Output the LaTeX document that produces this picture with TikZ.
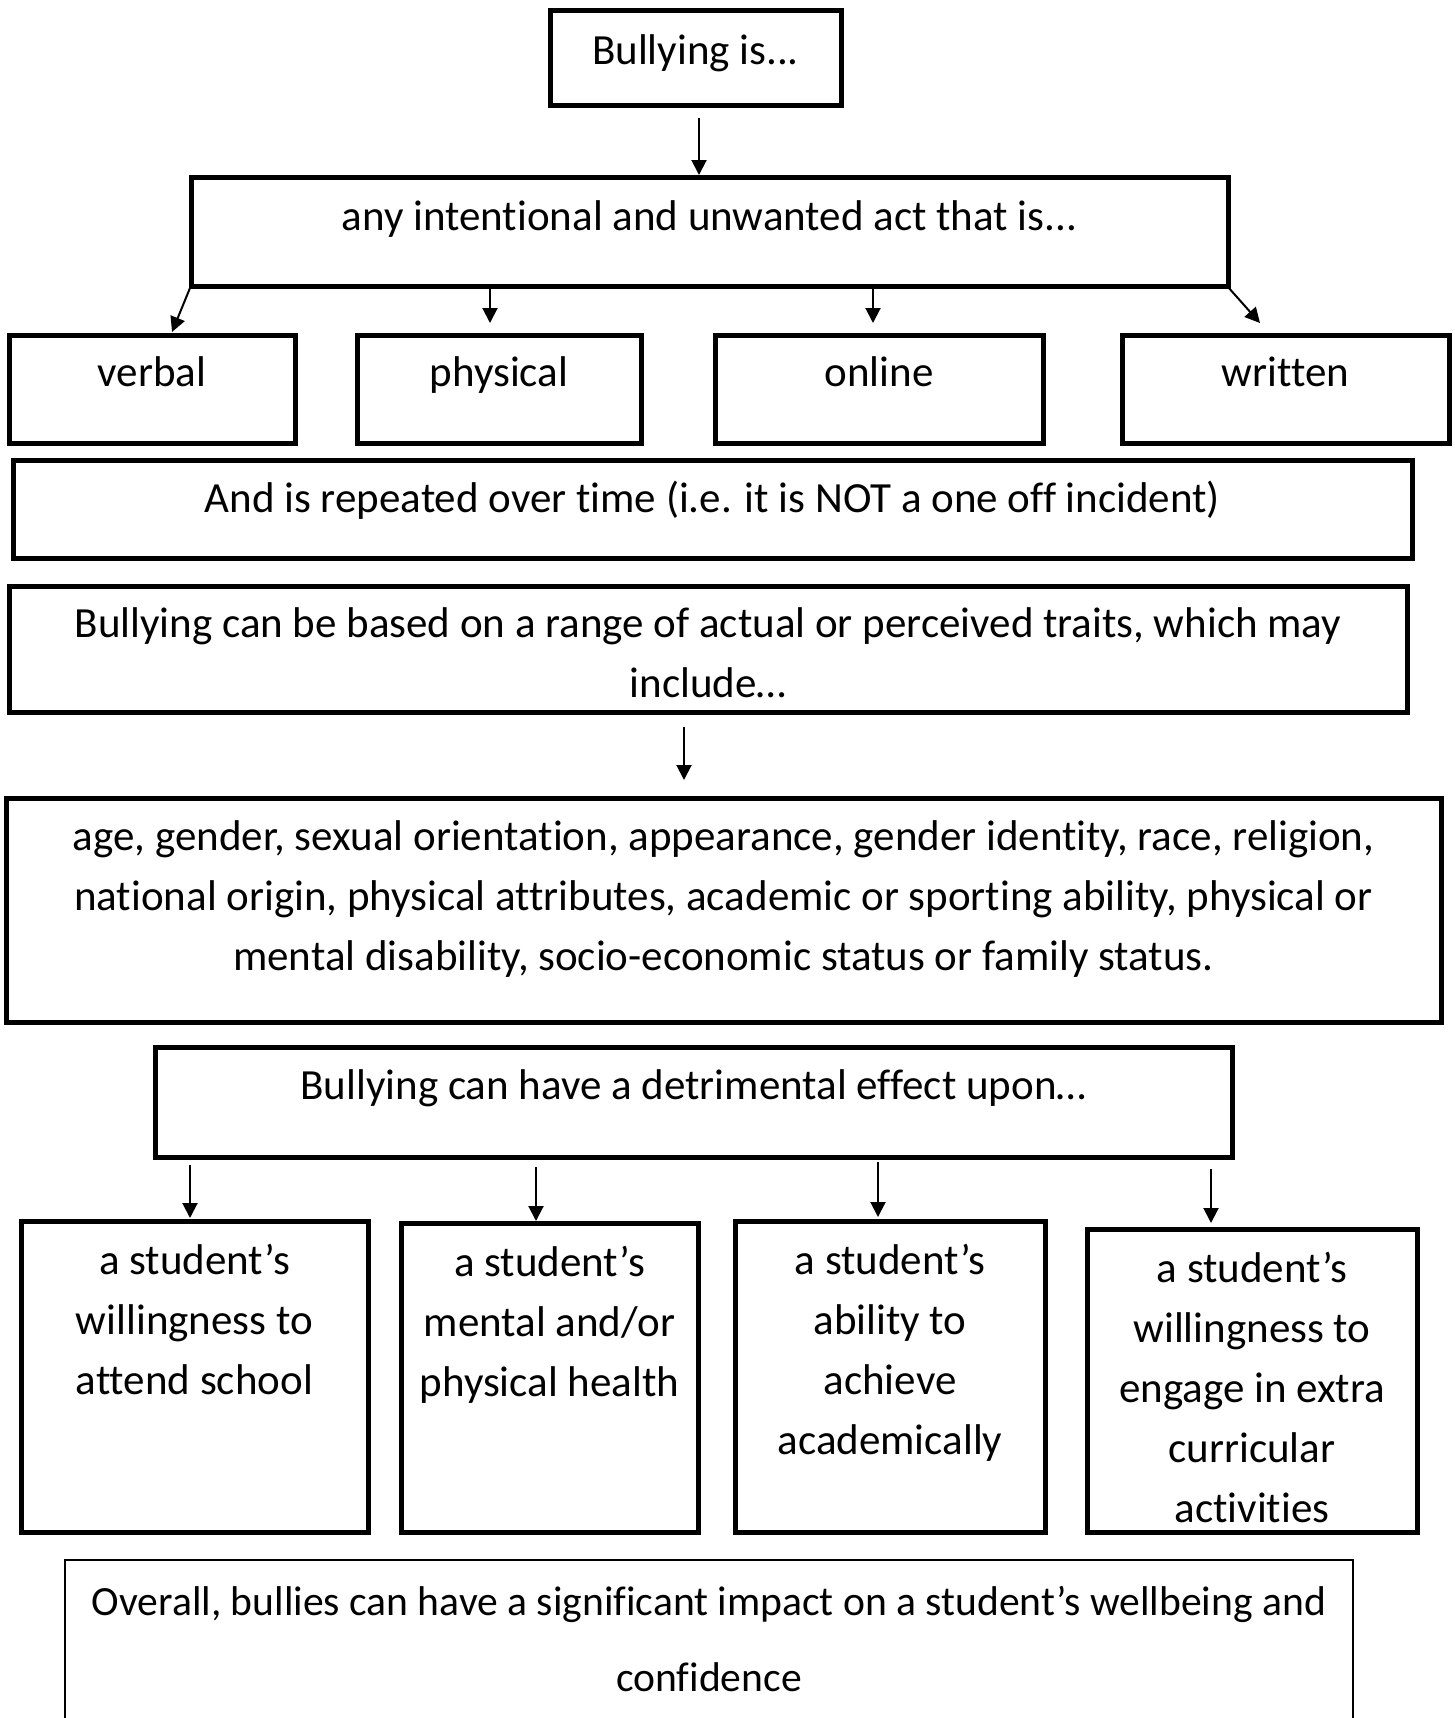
\documentclass[tikz,border=0pt]{standalone}
\usepackage{fontspec}
\setmainfont[Ligatures=NoCommon]{Carlito}
\usetikzlibrary{arrows.meta,calc}
\tikzset{
  box/.style={draw, line width=2.5pt, inner sep=0pt, outer sep=0pt},
  thinbox/.style={draw, line width=0.75pt, inner sep=0pt, outer sep=0pt},
  txt/.style={anchor=base, inner sep=0pt, align=center, font=\fontsize{21.5pt}{30pt}\selectfont},
  txtwide/.style={anchor=base, inner sep=0pt, align=center, font=\fontsize{20.8pt}{38pt}\selectfont},
  arr/.style={line width=1pt, -{Triangle[length=7.5pt,width=7.5pt]}}
}
\begin{document}
\begin{tikzpicture}[x=0.5pt,y=-0.5pt]
\useasboundingbox[fill=white] (0,0) rectangle (1455,1718);
% boxes
\node[box, minimum width=291*0.5pt, minimum height=95*0.5pt] (b0) at (695.5,58.5) {};
\node[box, minimum width=1037*0.5pt, minimum height=109*0.5pt] (b1) at (709.5,231.5) {};
\node[box, minimum width=286*0.5pt, minimum height=108*0.5pt] (verbal) at (152,389) {};
\node[box, minimum width=284*0.5pt, minimum height=108*0.5pt] (physical) at (499,389) {};
\node[box, minimum width=328*0.5pt, minimum height=108*0.5pt] (online) at (879,389) {};
\node[box, minimum width=327*0.5pt, minimum height=108*0.5pt] (written) at (1285.5,389) {};
\node[box, minimum width=1399*0.5pt, minimum height=98*0.5pt] (repeat) at (712.5,509) {};
\node[box, minimum width=1398*0.5pt, minimum height=126*0.5pt] (based) at (708,649) {};
\node[box, minimum width=1435*0.5pt, minimum height=224*0.5pt] (traits) at (723.5,910) {};
\node[box, minimum width=1077*0.5pt, minimum height=110*0.5pt] (detr) at (693.5,1102) {};
\node[box, minimum width=347*0.5pt, minimum height=311*0.5pt] (s1) at (194.5,1376.5) {};
\node[box, minimum width=297*0.5pt, minimum height=309*0.5pt] (s2) at (549.5,1377.5) {};
\node[box, minimum width=310*0.5pt, minimum height=311*0.5pt] (s3) at (890,1376.5) {};
\node[box, minimum width=330*0.5pt, minimum height=303*0.5pt] (s4) at (1252,1380.5) {};
\node[thinbox, minimum width=1288*0.5pt, minimum height=200*0.5pt] (ovbox) at (709,1660) {};
% texts (anchor base = baseline of last line)
\node[txt] (t0) at (695.5,65) {Bullying is...};
\node[txt] (t1) at (709.5,230) {any intentional and unwanted act that is...};
\node[txt] (tverbal) at (152,386) {verbal};
\node[txt] (tphysical) at (499,386) {physical};
\node[txt] (tonline) at (879,386) {online};
\node[txt] (twritten) at (1285.5,386) {written};
\node[txt] (trepeat) at (712.5,512) {And is repeated over time (i.e. it is NOT a one off incident)};
\node[txt] (tbased) at (708,697) {Bullying can be based on a range of actual or perceived traits, which may\\include…};
\node[txt] (ttraits) at (723.5,970) {age, gender, sexual orientation, appearance, gender identity, race, religion,\\national origin, physical attributes, academic or sporting ability, physical or\\mental disability, socio-economic status or family status.};
\node[txt] (tdetr) at (693.5,1099) {Bullying can have a detrimental effect upon…};
\node[txt] (ts1) at (194.5,1394) {a student’s\\willingness to\\attend school};
\node[txt] (ts2) at (549.5,1396) {a student’s\\mental and/or\\physical health};
\node[txt] (ts3) at (890,1454) {a student’s\\ability to\\achieve\\academically};
\node[txt] (ts4) at (1252,1522) {a student’s\\willingness to\\engage in extra\\curricular\\activities};
\node[txtwide] (tov) at (709,1691) {Overall, bullies can have a significant impact on a student’s wellbeing and\\confidence};
% connectors
\draw[arr] ($(b0.south)+(3.5,12)$) -- ($(b1.north)+(-10.5,-2)$);
\draw[arr] ($(b1.south west)+(-1,2)$) -- ($(verbal.north)+(20,-3)$);
\draw[arr] ($(b1.south west)+(299,2)$) -- ($(physical.north)+(-9,-12)$);
\draw[arr] ($(b1.south west)+(682,2)$) -- ($(online.north)+(-6,-12)$);
\draw[arr] ($(b1.south east)+(0,1)$) -- ($(written.north)+(-25.5,-12)$);
\draw[arr] ($(based.south)+(-24,15)$) -- ($(traits.north)+(-39.5,-18)$);
\draw[arr] ($(detr.south west)+(35,8)$) -- ($(s1.north)+(-4.5,-3)$);
\draw[arr] ($(detr.south west)+(381,10)$) -- ($(s2.north)+(-13.5,-2)$);
\draw[arr] ($(detr.south west)+(723,5)$) -- ($(s3.north)+(-12,-4)$);
\draw[arr] ($(detr.south east)+(-21,12)$) -- ($(s4.north)+(-41,-6)$);
\end{tikzpicture}
\end{document}
